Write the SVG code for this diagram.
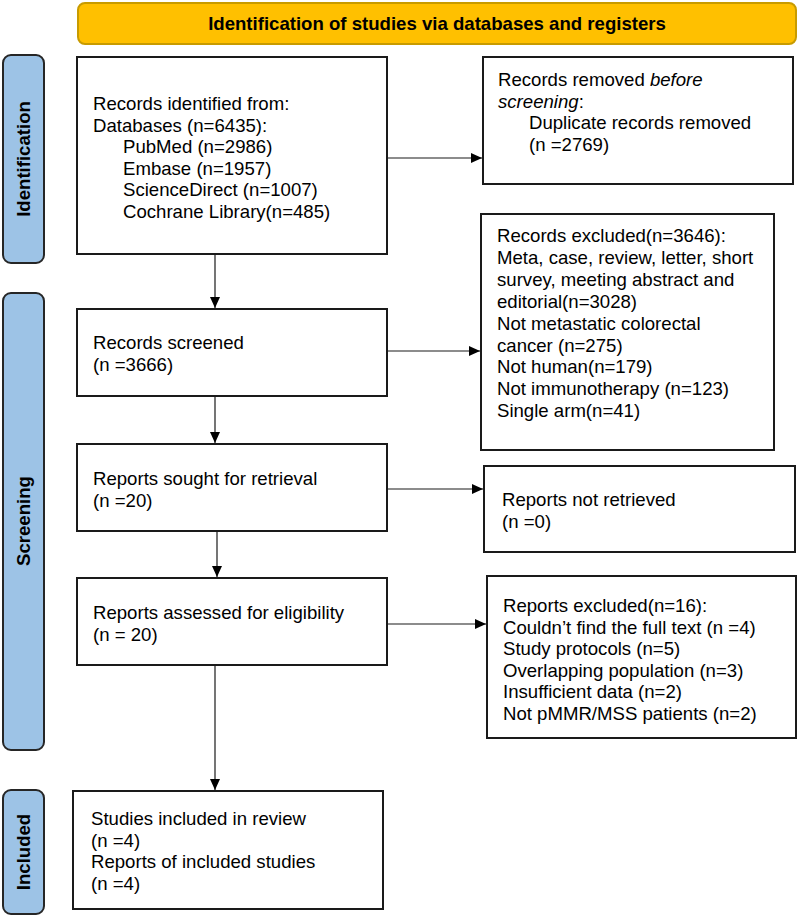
<svg xmlns="http://www.w3.org/2000/svg" width="798" height="916" viewBox="0 0 798 916">
<style>
  .box { fill: #ffffff; stroke: #1a1a1a; stroke-width: 2; }
  .side { fill: #9dc3e6; stroke: #262626; stroke-width: 2; }
  .t { font-family: "Liberation Sans", Arial, sans-serif; font-size: 18.6px; fill: #000000; }
  .b { font-family: "Liberation Sans", Arial, sans-serif; font-size: 18.6px; font-weight: bold; fill: #000000; }
  .conn { stroke: #1a1a1a; stroke-width: 1.2; fill: none; }
</style>
<defs>
  <marker id="arr" markerUnits="userSpaceOnUse" markerWidth="11" markerHeight="10" refX="11" refY="5" orient="auto">
    <path d="M0,0 L11,5 L0,10 z" fill="#000000"/>
  </marker>
</defs>
<rect width="798" height="916" fill="#ffffff"/>

<g id="title">
  <rect x="78" y="3" width="718" height="41" rx="7" fill="#ffc000" stroke="#c89b00" stroke-width="2"/>
  <text class="b" x="437" y="30" text-anchor="middle">Identification of studies via databases and registers</text>
</g>

<g id="label-identification">
  <rect class="side" x="3" y="55" width="41" height="208" rx="8"/>
  <text class="b" transform="translate(30,159) rotate(-90)" text-anchor="middle">Identification</text>
</g>
<g id="label-screening">
  <rect class="side" x="3" y="293" width="41" height="457" rx="8"/>
  <text class="b" transform="translate(30,521) rotate(-90)" text-anchor="middle">Screening</text>
</g>
<g id="label-included">
  <rect class="side" x="3" y="790" width="41" height="124" rx="8"/>
  <text class="b" transform="translate(30,852) rotate(-90)" text-anchor="middle">Included</text>
</g>

<g id="records-identified">
  <rect class="box" x="77" y="57" width="310" height="197"/>
  <text class="t" x="93" y="110">Records identified from:</text>
  <text class="t" x="93" y="131.6">Databases (n=6435):</text>
  <text class="t" x="123" y="153.2">PubMed (n=2986)</text>
  <text class="t" x="123" y="174.8">Embase (n=1957)</text>
  <text class="t" x="123" y="196.4">ScienceDirect (n=1007)</text>
  <text class="t" x="123" y="218">Cochrane Library(n=485)</text>
</g>

<g id="records-removed">
  <rect class="box" x="483" y="57" width="310" height="127"/>
  <text class="t" x="498" y="86">Records removed <tspan font-style="italic">before</tspan></text>
  <text class="t" x="498" y="107.5"><tspan font-style="italic">screening</tspan>:</text>
  <text class="t" x="529" y="129">Duplicate records removed</text>
  <text class="t" x="529" y="150.5">(n =2769)</text>
</g>

<g id="records-screened">
  <rect class="box" x="77" y="309" width="310" height="87"/>
  <text class="t" x="93" y="349">Records screened</text>
  <text class="t" x="93" y="370.5">(n =3666)</text>
</g>

<g id="records-excluded">
  <rect class="box" x="481" y="214" width="293" height="236"/>
  <text class="t" x="497" y="242">Records excluded(n=3646):</text>
  <text class="t" x="497" y="263.9">Meta, case, review, letter, short</text>
  <text class="t" x="497" y="285.8">survey, meeting abstract and</text>
  <text class="t" x="497" y="307.7">editorial(n=3028)</text>
  <text class="t" x="497" y="329.6">Not metastatic colorectal</text>
  <text class="t" x="497" y="351.5">cancer (n=275)</text>
  <text class="t" x="497" y="373.4">Not human(n=179)</text>
  <text class="t" x="497" y="395.3">Not immunotherapy (n=123)</text>
  <text class="t" x="497" y="417.2">Single arm(n=41)</text>
</g>

<g id="reports-sought">
  <rect class="box" x="77" y="444" width="310" height="87"/>
  <text class="t" x="93" y="485">Reports sought for retrieval</text>
  <text class="t" x="93" y="506.5">(n =20)</text>
</g>

<g id="reports-not-retrieved">
  <rect class="box" x="484" y="466" width="311" height="86"/>
  <text class="t" x="502" y="506">Reports not retrieved</text>
  <text class="t" x="502" y="527.5">(n =0)</text>
</g>

<g id="reports-assessed">
  <rect class="box" x="77" y="578" width="310" height="87"/>
  <text class="t" x="93" y="619">Reports assessed for eligibility</text>
  <text class="t" x="93" y="640.5">(n = 20)</text>
</g>

<g id="reports-excluded">
  <rect class="box" x="487" y="576" width="309" height="162"/>
  <text class="t" x="503" y="612">Reports excluded(n=16):</text>
  <text class="t" x="503" y="633.6">Couldn’t find the full text (n =4)</text>
  <text class="t" x="503" y="655.2">Study protocols (n=5)</text>
  <text class="t" x="503" y="676.8">Overlapping population (n=3)</text>
  <text class="t" x="503" y="698.4">Insufficient data (n=2)</text>
  <text class="t" x="503" y="720">Not pMMR/MSS patients (n=2)</text>
</g>

<g id="studies-included">
  <rect class="box" x="73" y="791" width="310" height="118"/>
  <text class="t" x="91" y="825">Studies included in review</text>
  <text class="t" x="91" y="846.5">(n =4)</text>
  <text class="t" x="91" y="868">Reports of included studies</text>
  <text class="t" x="91" y="889.5">(n =4)</text>
</g>

<g id="connectors">
  <line class="conn" x1="387" y1="158" x2="482" y2="158" marker-end="url(#arr)"/>
  <line class="conn" x1="387" y1="351" x2="480" y2="351" marker-end="url(#arr)"/>
  <line class="conn" x1="387" y1="489" x2="483" y2="489" marker-end="url(#arr)"/>
  <line class="conn" x1="387" y1="624" x2="486" y2="624" marker-end="url(#arr)"/>
  <line class="conn" x1="215" y1="254" x2="215" y2="308" marker-end="url(#arr)"/>
  <line class="conn" x1="215" y1="396" x2="215" y2="443" marker-end="url(#arr)"/>
  <line class="conn" x1="217" y1="531" x2="217" y2="577" marker-end="url(#arr)"/>
  <line class="conn" x1="215" y1="665" x2="215" y2="790" marker-end="url(#arr)"/>
</g>
</svg>
